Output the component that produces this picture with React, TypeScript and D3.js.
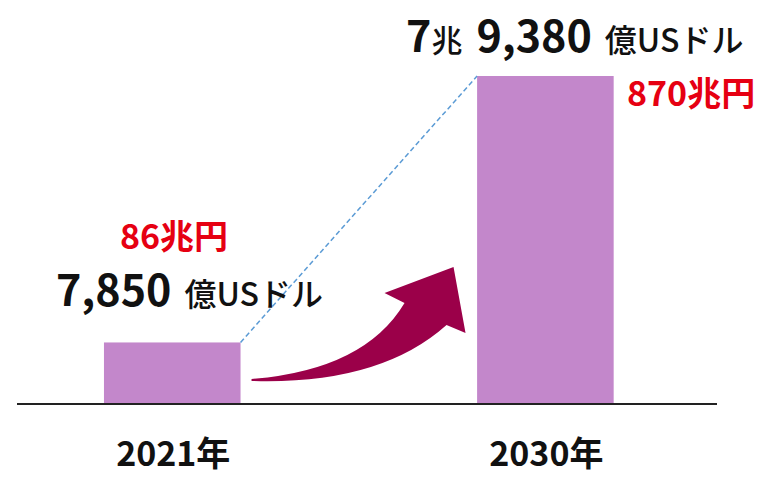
import * as d3 from 'd3';

const years = ['2021年', '2030年'];
const usdOku = [7850, 79380];
const usdMain = [['7,850'], ['7', '9,380']];
const yenLabels = ['86兆円', '870兆円'];

const W = 768;
const H = 485;
const FONT = '"Noto Sans CJK JP", "Noto Sans", sans-serif';

export default function App() {
  const baseY = 404;

  const x = d3.scaleBand<string>()
    .domain(years)
    .range([17, 717])
    .paddingInner(0.634)
    .paddingOuter(0.255)
    .align(0.457);

  // bars in the source are not proportional; a log scale reproduces them
  const y = d3.scaleLog()
    .domain([4600, 79380])
    .range([baseY, 76]);

  const bw = x.bandwidth();
  const x0 = x(years[0])!;
  const x1 = x(years[1])!;
  const y0 = y(usdOku[0]);
  const y1 = y(usdOku[1]);

  // growth arrow, placed between the two bars
  const ax = x0 + bw + 11;
  const path = d3.path();
  path.moveTo(ax, 379);
  path.quadraticCurveTo(ax + 113, 370, ax + 153, 303);
  path.lineTo(ax + 133, 293);
  path.lineTo(ax + 202, 267);
  path.lineTo(ax + 214, 333);
  path.lineTo(ax + 195, 325);
  path.quadraticCurveTo(ax + 128, 385, ax, 381);
  path.closePath();

  return (
    <div style={{ position: 'absolute', left: 0, top: 0 }}>
      <svg width={W} height={H} style={{ display: 'block', fontFamily: FONT }}>
        <rect width={W} height={H} fill="#fff" />
        {years.map((yr, i) => (
          <rect
            key={yr}
            x={x(yr)}
            y={y(usdOku[i])}
            width={bw}
            height={baseY - y(usdOku[i])}
            fill="#c387cb"
          />
        ))}
        <line
          x1={x0 + bw}
          y1={y0}
          x2={x1}
          y2={y1}
          stroke="#5b9bd5"
          strokeWidth={1.5}
          strokeDasharray="5,3"
        />
        <line x1={17} x2={717} y1={baseY} y2={baseY} stroke="#222" strokeWidth={2.2} />
        <path d={path.toString()} fill="#9b0049" />

        {years.map((yr, i) => (
          <text
            key={yr}
            x={x(yr)! + bw / 2 + 1}
            y={466}
            textAnchor="middle"
            fontSize={34}
            fontWeight={700}
            fill="#111"
          >
            {yr}
          </text>
        ))}

        <text x={120} y={249} fontSize={34} fontWeight={700} fill="#e60012">{yenLabels[0]}</text>
        <text x={627} y={106} fontSize={34} fontWeight={700} fill="#e60012">{yenLabels[1]}</text>

        <text x={56} y={306} fill="#111">
          <tspan fontSize={43} fontWeight={700}>{usdMain[0][0]}</tspan>
          <tspan dx={13} fontSize={32} fontWeight={500}>億USドル</tspan>
        </text>
        <text x={406} y={52} fill="#111">
          <tspan fontSize={43} fontWeight={700}>{usdMain[1][0]}</tspan>
          <tspan fontSize={31} fontWeight={500}>兆</tspan>
          <tspan dx={14} fontSize={43} fontWeight={700}>{usdMain[1][1]}</tspan>
          <tspan dx={13} fontSize={32} fontWeight={500}>億USドル</tspan>
        </text>
      </svg>
    </div>
  );
}
